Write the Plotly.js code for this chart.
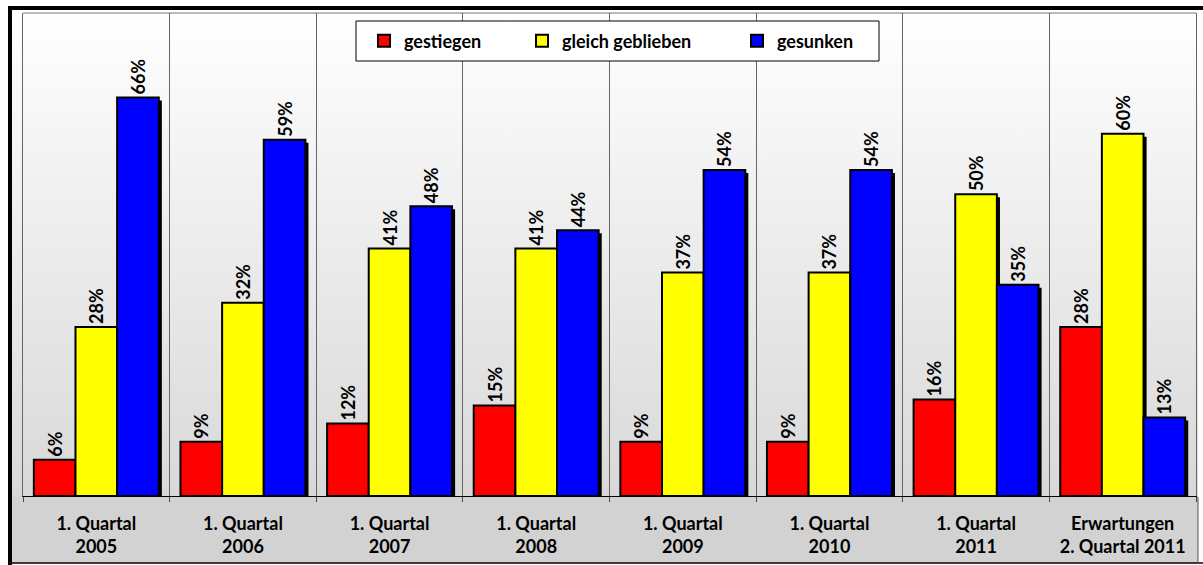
<!DOCTYPE html>
<html>
<head>
<meta charset="utf-8">
<script src="https://cdn.plot.ly/plotly-3.0.1.min.js"></script>
<style>html,body{margin:0;padding:0;background:#fff;}#chart{width:1203px;height:565px;}</style>
</head>
<body>
<div id="chart"></div>
<script>
// ---- data ----
const categories = [
  '1. Quartal<br>2005',
  '1. Quartal<br>2006',
  '1. Quartal<br>2007',
  '1. Quartal<br>2008',
  '1. Quartal<br>2009',
  '1. Quartal<br>2010',
  '1. Quartal<br>2011',
  'Erwartungen<br>2. Quartal 2011'
];
const seriesNames = ['gestiegen', 'gleich geblieben', 'gesunken'];
const gestiegen = [6, 9, 12, 15, 9, 9, 16, 28];
const gleichGeblieben = [28, 32, 41, 41, 37, 37, 50, 60];
const gesunken = [66, 59, 48, 44, 54, 54, 35, 13];

// ---- layout helpers ----
const W = 1203, H = 565;
const M = {l: 23, r: 7, t: 13, b: 69};
const PW = W - M.l - M.r, PH = H - M.t - M.b;
const px = v => (v - M.l) / PW;
const py = v => (H - M.b - v) / PH;

const FONT = 'Lato, "Open Sans", sans-serif';
const colors = ['#ff0000', '#ffff00', '#0000ff'];
const seriesVals = [gestiegen, gleichGeblieben, gesunken];
const barW = 0.284;
const offsets = [-0.426, -0.142, 0.142];
const shadowShift = 0.021;
const legendIds = ['legend', 'legend2', 'legend3'];

const traces = [];
// shadows first
seriesVals.forEach((vals, i) => {
  traces.push({
    type: 'bar', x: categories, y: vals.map(v => v - 0.5),
    width: barW, offset: offsets[i] + shadowShift,
    marker: {color: '#000', line: {width: 0}},
    showlegend: false, hoverinfo: 'skip'
  });
});
seriesVals.forEach((vals, i) => {
  traces.push({
    type: 'bar', name: seriesNames[i], x: categories, y: vals,
    width: barW, offset: offsets[i],
    marker: {color: colors[i], line: {color: '#000', width: 2}},
    texttemplate: '%{y}%', textposition: 'outside', textangle: -90,
    constraintext: 'none', cliponaxis: false,
    textfont: {family: FONT, size: 18, color: '#000', weight: 'bold'},
    legend: legendIds[i]
  });
});

const gradSvg = '<svg xmlns="http://www.w3.org/2000/svg" width="100" height="100" viewBox="0 0 100 100" preserveAspectRatio="none">' +
  '<defs><linearGradient id="g" x1="0" y1="0" x2="0" y2="1">' +
  '<stop offset="0" stop-color="#ffffff"/><stop offset="1" stop-color="#d8d8d8"/>' +
  '</linearGradient></defs><rect x="0" y="0" width="100" height="100" fill="url(#g)"/></svg>';

const legendTextX = [404, 562, 777];
const legendCommon = id => ({
  orientation: 'h', xanchor: 'left', yanchor: 'middle', y: py(41),
  bgcolor: 'rgba(0,0,0,0)', borderwidth: 0,
  font: {family: FONT, size: 18, color: '#000', weight: 'bold'}
});

const layout = {
  width: W, height: H,
  margin: M,
  paper_bgcolor: '#ffffff',
  plot_bgcolor: 'rgba(0,0,0,0)',
  barmode: 'overlay',
  font: {family: FONT, color: '#000', weight: 'bold'},
  xaxis: {
    type: 'category', tickson: 'boundaries',
    showgrid: true, gridcolor: '#666666', gridwidth: 1,
    ticks: 'outside', ticklen: 5, tickcolor: '#444444',
    showline: true, linecolor: '#000000', linewidth: 1,
    tickfont: {family: FONT, size: 18, color: '#000', weight: 'bold'},
    ticklabelstandoff: 11,
    fixedrange: true
  },
  yaxis: {
    range: [0, 80], showticklabels: false, ticks: '', showgrid: false,
    zeroline: false, showline: true, mirror: true, linecolor: '#666666', linewidth: 1,
    fixedrange: true
  },
  showlegend: true,
  legend: Object.assign(legendCommon(), {x: px(legendTextX[0] - 40)}),
  legend2: Object.assign(legendCommon(), {x: px(legendTextX[1] - 40)}),
  legend3: Object.assign(legendCommon(), {x: px(legendTextX[2] - 40)}),
  images: [{
    source: 'data:image/svg+xml;charset=utf-8,' + encodeURIComponent(gradSvg),
    xref: 'paper', yref: 'paper', x: px(12), y: py(10),
    sizex: (1198 - 12) / PW, sizey: (497 - 10) / PH,
    xanchor: 'left', yanchor: 'top', sizing: 'stretch', layer: 'below'
  }],
  shapes: [
    // gray band below axis
    {type: 'rect', xref: 'paper', yref: 'paper', layer: 'below',
     x0: px(12), x1: px(1198), y0: py(563), y1: py(497),
     fillcolor: '#d2d2d2', line: {width: 0}},
    // top plot border
    {type: 'line', xref: 'paper', yref: 'paper', layer: 'above',
     x0: 0, x1: 1, y0: 1, y1: 1, line: {color: '#777777', width: 1}},
    // outer frame: top thick
    {type: 'rect', xref: 'paper', yref: 'paper', layer: 'above',
     x0: px(8), x1: px(1203), y0: py(10), y1: py(6),
     fillcolor: '#000', line: {width: 0}},
    // left thick
    {type: 'rect', xref: 'paper', yref: 'paper', layer: 'above',
     x0: px(8), x1: px(12), y0: py(565), y1: py(6),
     fillcolor: '#000', line: {width: 0}},
    // bottom thin
    {type: 'line', xref: 'paper', yref: 'paper', layer: 'above',
     x0: px(8), x1: px(1203), y0: py(563), y1: py(563),
     line: {color: '#000', width: 1.5}},
    // right thin
    {type: 'line', xref: 'paper', yref: 'paper', layer: 'above',
     x0: px(1198), x1: px(1198), y0: py(563), y1: py(497),
     line: {color: '#555', width: 1}},
    // legend box
    {type: 'rect', xref: 'paper', yref: 'paper', layer: 'above',
     x0: px(356), x1: px(879), y0: py(61), y1: py(21),
     fillcolor: '#ffffff', line: {color: '#000', width: 1}}
  ]
};

Plotly.newPlot('chart', traces, layout, {displayModeBar: false, staticPlot: true});
</script>
</body>
</html>
